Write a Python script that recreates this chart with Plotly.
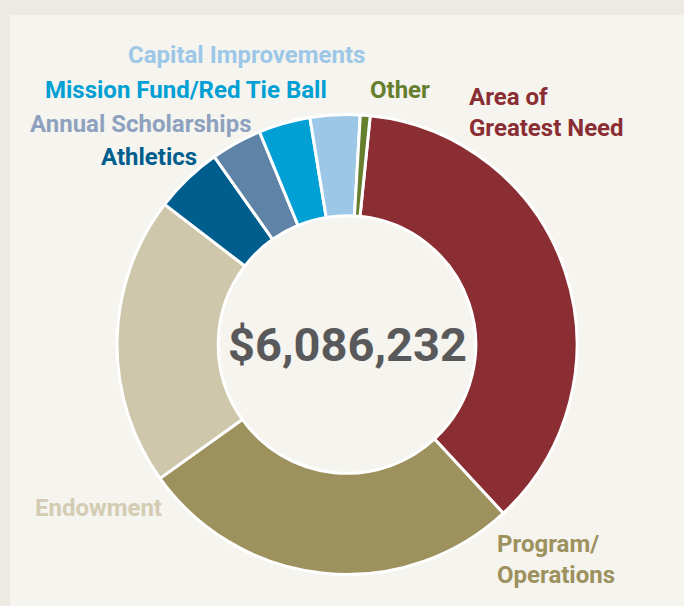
import plotly.graph_objects as go

W, H = 684, 606

categories = ["Area of Greatest Need", "Program/Operations", "Endowment", "Athletics",
              "Annual Scholarships", "Mission Fund/Red Tie Ball", "Capital Improvements", "Other"]
values = [2221000, 1643000, 1236000, 291000, 218000, 221000, 213000, 42000]
total_label = "$6,086,232"

slice_colors = ["#8B2E33", "#9D915D", "#CFC7AB", "#005E8E", "#5F82A7", "#00A0D5", "#9DC7E7", "#667F2E"]
text_colors = ["#8B2E33", "#9D915D", "#D3CCB2", "#005E8E", "#8EA2BF", "#00A0D5", "#9DC7E7", "#667F2E"]
label_text = ["Area of<br>Greatest Need", "Program/<br>Operations", "Endowment", "Athletics",
              "Annual Scholarships", "Mission Fund/Red Tie Ball", "Capital Improvements", "Other"]
# label anchor positions in pixels (left x, vertical center of the label block)
label_px = [(467, 112.5), (495, 559), (33, 508), (99, 157), (28, 124), (43, 90), (126, 55), (368, 90)]

cx, cy, R = 347, 344.5, 230

FONT = "Roboto, Arial, sans-serif"

fig = go.Figure()
fig.add_trace(go.Pie(
    labels=categories, values=values, sort=False, direction="clockwise", rotation=5.8,
    hole=0.56, textinfo="none", hoverinfo="label+value+percent",
    marker=dict(colors=slice_colors, line=dict(color="white", width=3)),
    domain=dict(x=[(cx - R) / W, (cx + R) / W], y=[1 - (cy + R) / H, 1 - (cy - R) / H]),
    showlegend=False,
))

annotations = []
for txt, col, (px, py) in zip(label_text, text_colors, label_px):
    annotations.append(dict(
        text=txt, x=px / W, y=1 - py / H, xref="paper", yref="paper",
        xanchor="left", yanchor="middle", align="left", showarrow=False,
        font=dict(family=FONT, size=24, color=col, weight="bold"),
    ))
annotations.append(dict(
    text=total_label, x=cx / W, y=1 - cy / H, xref="paper", yref="paper",
    xanchor="center", yanchor="middle", showarrow=False,
    font=dict(family=FONT, size=47, color="#59595B", weight="bold"),
))

fig.update_layout(
    width=W, height=H, margin=dict(l=0, r=0, t=0, b=0),
    paper_bgcolor="#EDEAE3", plot_bgcolor="#F5F4EF",
    shapes=[dict(type="rect", xref="paper", yref="paper", x0=10 / W, x1=1, y0=0, y1=1 - 15 / H,
                 fillcolor="#F5F4EF", line=dict(width=0), layer="below")],
    annotations=annotations,
)

fig.write_html("out.html", config={"displayModeBar": False},
               post_script="document.body.style.margin='0';")
